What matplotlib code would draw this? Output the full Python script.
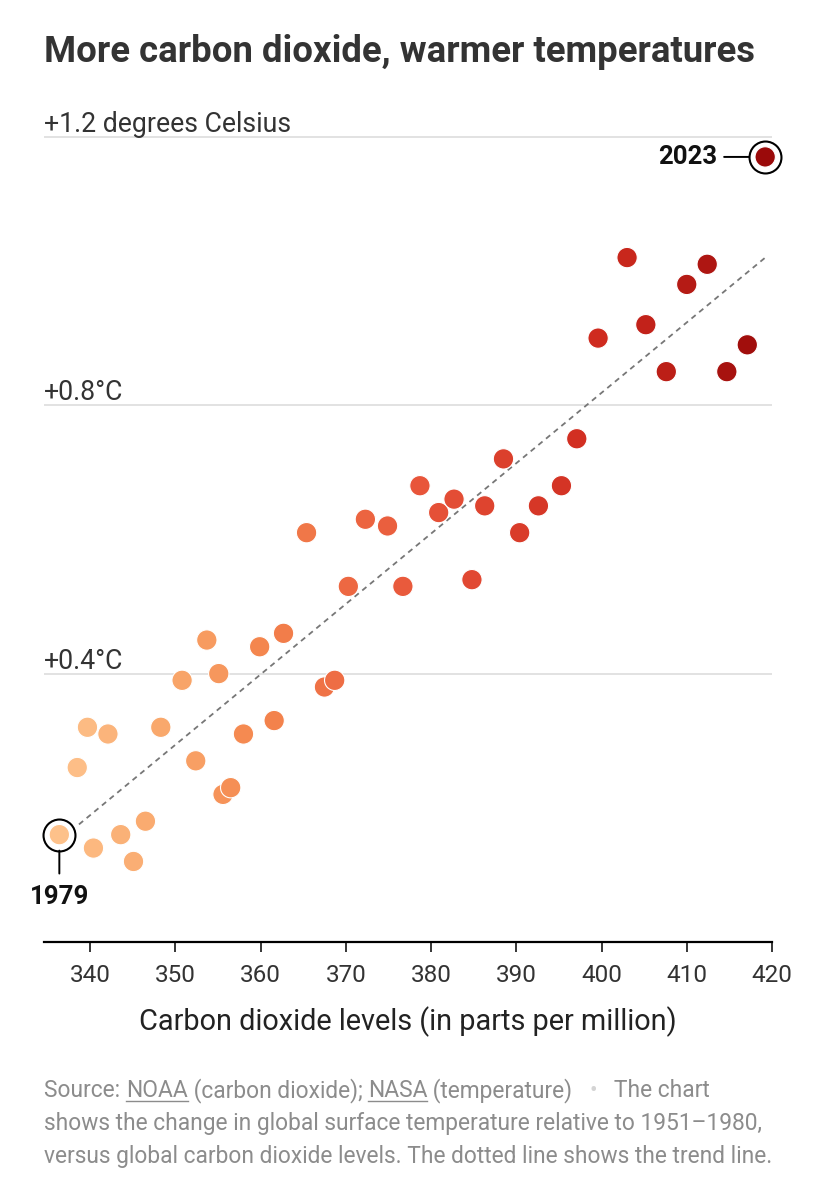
import numpy as np
import matplotlib
matplotlib.use("Agg")
import matplotlib.pyplot as plt
from matplotlib.colors import LinearSegmentedColormap
from matplotlib.lines import Line2D

# data, one point per year 1979-2023
years = list(range(1979, 2024))
co2 = [336.4, 338.5, 339.7, 340.4, 342.1, 343.6, 345.1, 346.5, 348.3, 350.8,
       352.4, 353.7, 355.1, 355.6, 356.5, 358.0, 359.9, 361.6, 362.7, 365.4,
       367.5, 368.7, 370.3, 372.3, 374.9, 376.7, 378.7, 380.9, 382.7, 384.8,
       386.3, 388.5, 390.4, 392.6, 395.3, 397.1, 399.6, 403.0, 405.2, 407.6,
       410.0, 412.4, 414.7, 417.1, 419.2]
temp = [0.16, 0.26, 0.32, 0.14, 0.31, 0.16, 0.12, 0.18, 0.32, 0.39,
        0.27, 0.45, 0.40, 0.22, 0.23, 0.31, 0.44, 0.33, 0.46, 0.61,
        0.38, 0.39, 0.53, 0.63, 0.62, 0.53, 0.68, 0.64, 0.66, 0.54,
        0.65, 0.72, 0.61, 0.65, 0.68, 0.75, 0.90, 1.02, 0.92, 0.85,
        0.98, 1.01, 0.85, 0.89, 1.17]

x_ticks = [340, 350, 360, 370, 380, 390, 400, 410, 420]
y_grid = [0.4, 0.8, 1.2]
y_labels = ["+0.4°C", "+0.8°C", "+1.2 degrees Celsius"]

FONT = ['Roboto', 'DejaVu Sans']
plt.rcParams['font.family'] = FONT

W, H = 816, 1200
fig = plt.figure(figsize=(W / 100, H / 100), dpi=100)
ax = fig.add_axes([44 / W, 1 - 942 / H, 728 / W, 838.75 / H])
ax.set_xlim(334.6, 420)
ax.set_ylim(0, 1.25)

# colour by year
cmap = LinearSegmentedColormap.from_list(
    "warm", [(0, '#fdc18a'), (0.18, '#f9a86c'), (0.36, '#f4874e'),
             (0.59, '#e8553a'), (0.82, '#cf2b1f'), (1, '#9b0a0a')])
yr = np.array(years)
colors = cmap((yr - yr.min()) / (yr.max() - yr.min()))

# gridlines + labels
for g, lab in zip(y_grid, y_labels):
    ax.axhline(g, color='#dddddd', lw=1.2, zorder=0)
    ax.annotate(lab, xy=(0, g), xycoords=('axes fraction', 'data'),
                xytext=(0, 5), textcoords='offset pixels',
                ha='left', va='baseline', fontsize=19.2, color='#333333')

# trend line
k, b = np.polyfit(co2, temp, 1)
tx = np.array([co2[0] + 2.3, co2[-1]])
ax.plot(tx, k * tx + b, color='#777777', lw=1.3, ls=(0, (3, 2.5)), zorder=1)

ax.scatter(co2, temp, s=215, c=colors, edgecolors='white', linewidths=0.8,
           zorder=3, clip_on=False)

# highlight first and last year
for i in (0, -1):
    ax.plot(co2[i], temp[i], 'o', ms=23, mfc='none', mec='black', mew=1.5,
            zorder=4, clip_on=False)

ax.annotate(str(years[-1]), xy=(co2[-1], temp[-1]), xytext=(-48, 0),
            textcoords='offset pixels', ha='right', va='center',
            fontsize=18.5, fontweight='bold', color='#111111',
            arrowprops=dict(arrowstyle='-', color='black', lw=1.4,
                            shrinkA=3, shrinkB=11.5))
ax.annotate(str(years[0]), xy=(co2[0], temp[0]), xytext=(0, -62),
            textcoords='offset pixels', ha='center', va='center',
            fontsize=18.5, fontweight='bold', color='#111111',
            arrowprops=dict(arrowstyle='-', color='black', lw=1.4,
                            shrinkA=6, shrinkB=11.5))

# axes styling
for s in ('top', 'right', 'left'):
    ax.spines[s].set_visible(False)
ax.spines['bottom'].set_linewidth(1.6)
ax.spines['bottom'].set_color('black')
ax.set_yticks([])
ax.set_xticks(x_ticks)
ax.tick_params(axis='x', length=7, width=1.1, color='black', pad=9,
               labelsize=17.5, labelcolor='#333333')

# title and axis label
fig.text(44 / W, 1 - 62 / H, "More carbon dioxide, warmer temperatures",
         ha='left', va='baseline', fontsize=26.3, fontweight='bold',
         color='#333333')
fig.text(408 / W, 1 - 1030 / H, "Carbon dioxide levels (in parts per million)",
         ha='center', va='baseline', fontsize=20.8, color='#222222')

# footer with underlined source names
grey = '#8c8c8c'
fsize = 16.4
renderer = fig.canvas.get_renderer()


def text_width(s):
    # width in pixels, sentinel char keeps trailing spaces
    t = fig.text(0, 0, s + "x", fontsize=fsize)
    t2 = fig.text(0, 0, "x", fontsize=fsize)
    w = t.get_window_extent(renderer).width - t2.get_window_extent(renderer).width
    t.remove()
    t2.remove()
    return w


line1 = [("Source: ", grey, False), ("NOAA", grey, True),
         (" (carbon dioxide); ", grey, False), ("NASA", grey, True),
         (" (temperature)   ", grey, False), ("•", '#d4d4d4', False),
         ("   The chart", grey, False)]
x0 = 44
base1 = 1097
prefix = ""
for s, col, ul in line1:
    xp = x0 + text_width(prefix) if prefix else x0
    fig.text(xp / W, 1 - base1 / H, s, fontsize=fsize, color=col,
             ha='left', va='baseline')
    if ul:
        wpx = text_width(s)
        fig.add_artist(Line2D([xp / W, (xp + wpx) / W],
                              [1 - (base1 + 4) / H] * 2, color=grey, lw=1.0))
    prefix += s

fig.text(44 / W, 1 - 1130 / H,
         "shows the change in global surface temperature relative to 1951–1980,",
         fontsize=fsize, color=grey, ha='left', va='baseline')
fig.text(44 / W, 1 - 1163 / H,
         "versus global carbon dioxide levels. The dotted line shows the trend line.",
         fontsize=fsize, color=grey, ha='left', va='baseline')

fig.savefig("out.png", dpi=100, facecolor='white')
